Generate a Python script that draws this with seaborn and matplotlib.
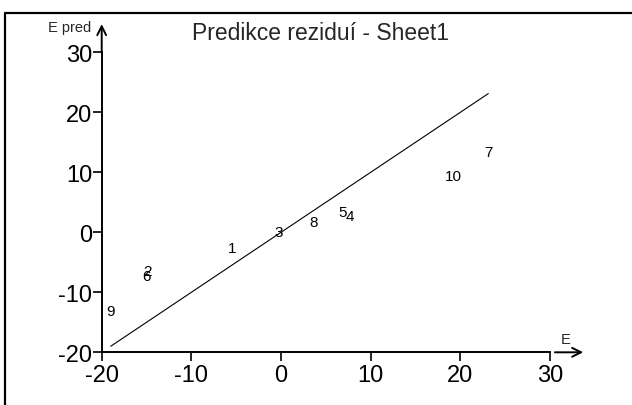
import matplotlib
matplotlib.use("Agg")
import matplotlib.pyplot as plt
from matplotlib.lines import Line2D
import seaborn as sns
import pandas as pd

# Data
point_ids = ["1", "2", "3", "4", "5", "6", "7", "8", "9", "10"]
E_values = [-5.43, -14.84, -0.22, 7.69, 6.88, -15.0, 23.12, 3.60, -18.99, 19.18]
E_pred_values = [-2.67, -6.45, 0.0, 2.77, 3.33, -7.28, 13.43, 1.77, -13.17, 9.43]
tick_values = [-20, -10, 0, 10, 20, 30]
tick_labels = ["-20", "-10", "0", "10", "20", "30"]
title_text = "Predikce reziduí - Sheet1"
x_label = "E"
y_label = "E pred"

sns.set_style("white")
plt.rcParams["font.family"] = ["Liberation Sans", "DejaVu Sans"]
plt.rcParams["axes.unicode_minus"] = False

W, H = 632, 406
fig = plt.figure(figsize=(W / 100, H / 100), dpi=100)
fig.patch.set_facecolor("white")

x0, x1 = 101.7, 550.0
y0, y1 = 353.3, 53.3
ax = fig.add_axes([x0 / W, (H - y0) / H, (x1 - x0) / W, (y0 - y1) / H])
ax.set_facecolor("white")

# identity line across the data range
emin, emax = min(E_values), max(E_values)
line_df = pd.DataFrame({"E": [emin, emax], "Epred": [emin, emax]})
sns.lineplot(data=line_df, x="E", y="Epred", ax=ax, color="black", linewidth=0.8)

# point labels
for pid, xv, yv in zip(point_ids, E_values, E_pred_values):
    ax.text(xv, yv, pid, ha="center", va="center", fontsize=11, color="black")

ax.set_xlim(-20, 30)
ax.set_ylim(-20, 30)
ax.set_xticks(tick_values)
ax.set_xticklabels(tick_labels)
ax.set_yticks(tick_values)
ax.set_yticklabels(tick_labels)
ax.set_xlabel("")
ax.set_ylabel("")
for s in ["top", "right"]:
    ax.spines[s].set_visible(False)
for s in ["left", "bottom"]:
    ax.spines[s].set_visible(True)
    ax.spines[s].set_color("black")
    ax.spines[s].set_linewidth(1.4)
ax.tick_params(axis="both", direction="out", length=6.3, width=1.2,
               colors="black", labelsize=17, pad=0.5,
               bottom=True, left=True, top=False, right=False)
ax.tick_params(axis="x", pad=2)
ax.grid(False)

# axis arrows
ax.annotate("", xy=(1.074, 0), xytext=(1.011, 0), xycoords="axes fraction",
            textcoords="axes fraction", annotation_clip=False,
            arrowprops=dict(arrowstyle="->", color="black", lw=1.4,
                            mutation_scale=16, shrinkA=0, shrinkB=0))
ax.annotate("", xy=(0, 1.094), xytext=(0, 1.0), xycoords="axes fraction",
            textcoords="axes fraction", annotation_clip=False,
            arrowprops=dict(arrowstyle="->", color="black", lw=1.4,
                            mutation_scale=16, shrinkA=0, shrinkB=0))

# texts
fig.text(320 / W, 1 - 33 / H, title_text, ha="center", va="center", fontsize=16.5)
fig.text(70 / W, 1 - 28 / H, y_label, ha="center", va="center", fontsize=10.5)
fig.text(566 / W, 1 - 340 / H, x_label, ha="center", va="center", fontsize=10.5)

# outer frame (top and left edges)
fig.add_artist(Line2D([5 / W, 1.0], [1 - 14 / H, 1 - 14 / H], transform=fig.transFigure,
                      color="black", linewidth=1.6))
fig.add_artist(Line2D([5 / W, 5 / W], [1 - 14 / H, 0.0], transform=fig.transFigure,
                      color="black", linewidth=1.6))

fig.savefig("out.png", dpi=100, facecolor="white")
